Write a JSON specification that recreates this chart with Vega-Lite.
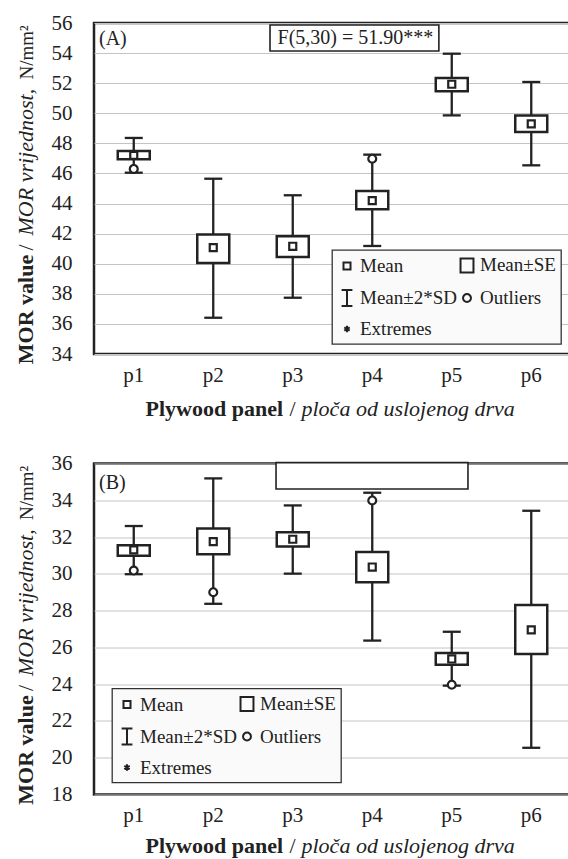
{
  "$schema": "https://vega.github.io/schema/vega-lite/v6.json",
  "padding": {"left": 12, "top": 10, "right": 0, "bottom": 0},
  "background": "white",
  "config": {
    "font": "Liberation Serif",
    "view": {"stroke": "#222", "strokeWidth": 2.5},
    "axis": {"labelFont": "Liberation Serif", "titleFont": "Liberation Serif", "labelColor": "#222", "titleColor": "#222", "labelFontSize": 21, "titleFontSize": 22, "titleFontWeight": "normal", "gridColor": "#c4c4c4", "gridWidth": 1, "domain": false, "ticks": false},
    "legend": {"labelFont": "Liberation Serif", "labelFontSize": 19, "labelColor": "#222", "fillColor": "#fafafa", "strokeColor": "#333", "strokeWidth": 1.3, "padding": 5, "rowPadding": 9, "columnPadding": -8, "labelOffset": 3, "symbolSize": 324, "symbolStrokeWidth": 2, "symbolStrokeColor": "#222", "symbolFillColor": "transparent", "labelLimit": 300, "gridAlign": "each", "direction": "horizontal"},
    "text": {"font": "Liberation Serif", "fontSize": 20, "color": "#222"}
  },
  "datasets": {
    "A": [
      {"panel": "p1", "lo": 46.05, "hi": 48.36, "se_lo": 46.94, "se_hi": 47.49, "mean": 47.2, "outlier": 46.3},
      {"panel": "p2", "lo": 36.41, "hi": 45.65, "se_lo": 40.05, "se_hi": 41.95, "mean": 41.07, "outlier": null},
      {"panel": "p3", "lo": 37.74, "hi": 44.55, "se_lo": 40.45, "se_hi": 41.82, "mean": 41.16, "outlier": null},
      {"panel": "p4", "lo": 41.18, "hi": 47.25, "se_lo": 43.62, "se_hi": 44.83, "mean": 44.2, "outlier": 46.98},
      {"panel": "p5", "lo": 49.86, "hi": 53.96, "se_lo": 51.46, "se_hi": 52.34, "mean": 51.93, "outlier": null},
      {"panel": "p6", "lo": 46.54, "hi": 52.08, "se_lo": 48.76, "se_hi": 49.86, "mean": 49.29, "outlier": null}
    ],
    "B": [
      {"panel": "p1", "lo": 29.98, "hi": 32.6, "se_lo": 30.99, "se_hi": 31.55, "mean": 31.3, "outlier": 30.18},
      {"panel": "p2", "lo": 28.37, "hi": 35.19, "se_lo": 31.06, "se_hi": 32.47, "mean": 31.75, "outlier": 29.0},
      {"panel": "p3", "lo": 30.01, "hi": 33.72, "se_lo": 31.48, "se_hi": 32.26, "mean": 31.88, "outlier": null},
      {"panel": "p4", "lo": 26.37, "hi": 34.41, "se_lo": 29.54, "se_hi": 31.19, "mean": 30.37, "outlier": 33.99},
      {"panel": "p5", "lo": 23.92, "hi": 26.85, "se_lo": 25.06, "se_hi": 25.69, "mean": 25.37, "outlier": 23.97},
      {"panel": "p6", "lo": 20.54, "hi": 33.43, "se_lo": 25.64, "se_hi": 28.31, "mean": 26.95, "outlier": null}
    ]
  },
  "vconcat": [
    {
      "width": 477,
      "height": 331,
      "data": {"name": "A"},
      "resolve": {"scale": {"x": "independent"}, "axis": {"x": "independent", "y": "independent"}},
      "layer": [
        {
          "mark": {"type": "rule", "color": "#222", "strokeWidth": 2.3},
          "encoding": {
            "x": {"field": "panel", "type": "nominal", "scale": {"domain": ["p1", "p2", "p3", "p4", "p5", "p6"], "paddingInner": 0, "paddingOuter": 0},
              "axis": {"orient": "bottom", "labelAngle": 0, "labelPadding": 10, "title": "Plywood panel", "titleFontWeight": "bold", "titleX": 51, "titleY": 61.3, "titleAlign": "left", "titleBaseline": "alphabetic", "grid": false}},
            "y": {"field": "lo", "type": "quantitative", "scale": {"domain": [34, 56], "nice": false, "zero": false},
              "axis": {"orient": "left", "values": [34, 36, 38, 40, 42, 44, 46, 48, 50, 52, 54, 56], "grid": true, "labelPadding": 22, "title": "MOR value", "titleFontWeight": "bold", "titleX": -62, "titleY": 340.7, "titleAlign": "left", "titleAngle": 270, "titleBaseline": "alphabetic"}},
            "y2": {"field": "hi"}
          }
        },
        {
          "mark": {"type": "tick", "orient": "horizontal", "color": "#222", "thickness": 2.3, "size": 18, "opacity": 1},
          "encoding": {"x": {"field": "panel", "type": "nominal", "scale": {"domain": ["p1", "p2", "p3", "p4", "p5", "p6"], "paddingInner": 0, "paddingOuter": 0}, "axis": null}, "y": {"field": "lo", "type": "quantitative", "axis": null}}
        },
        {
          "mark": {"type": "tick", "orient": "horizontal", "color": "#222", "thickness": 2.3, "size": 18, "opacity": 1},
          "encoding": {"x": {"field": "panel", "type": "nominal", "scale": {"domain": ["p1", "p2", "p3", "p4", "p5", "p6"], "paddingInner": 0, "paddingOuter": 0}, "axis": null}, "y": {"field": "hi", "type": "quantitative", "axis": null}}
        },
        {
          "mark": {"type": "bar", "width": 32, "fill": "white", "stroke": "#222", "strokeWidth": 2.5},
          "encoding": {"x": {"field": "panel", "type": "nominal", "scale": {"domain": ["p1", "p2", "p3", "p4", "p5", "p6"], "paddingInner": 0, "paddingOuter": 0}, "axis": null}, "y": {"field": "se_lo", "type": "quantitative", "axis": null}, "y2": {"field": "se_hi"}}
        },
        {
          "mark": {"type": "point", "shape": "circle", "filled": true, "color": "white", "size": 50, "opacity": 1},
          "encoding": {"x": {"field": "panel", "type": "nominal", "scale": {"domain": ["p1", "p2", "p3", "p4", "p5", "p6"], "paddingInner": 0, "paddingOuter": 0}, "axis": null}, "y": {"field": "outlier", "type": "quantitative", "axis": null}}
        },
        {
          "mark": {"type": "point", "filled": false, "color": "#222", "strokeWidth": 2.2, "size": 324, "opacity": 1},
          "encoding": {
            "x": {"field": "panel", "type": "nominal", "scale": {"domain": ["p1", "p2", "p3", "p4", "p5", "p6"], "paddingInner": 0, "paddingOuter": 0}, "axis": null},
            "y": {"field": "mean", "type": "quantitative", "axis": null},
            "shape": {"datum": "Mean", "scale": {"domain": ["Mean", "Mean±SE", "Mean±2*SD", "Outliers", "Extremes"], "range": ["M-0.39,-0.39H0.39V0.39H-0.39Z", "M-0.72,-0.78H0.72V0.78H-0.72Z", "M-0.6,-0.88H0.6M0,-0.88V0.88M-0.6,0.88H0.6", "M-0.44,0A0.44,0.44,0,1,0,0.44,0A0.44,0.44,0,1,0,-0.44,0Z", "M0,-0.35V0.35M-0.3,-0.18L0.3,0.18M-0.3,0.18L0.3,-0.18"]},
              "legend": {"orient": "none", "legendX": 238, "legendY": 227, "columns": 2, "direction": "horizontal", "title": null,
                "encode": {"symbols": {"update": {"stroke": {"value": "#222"}, "strokeOpacity": {"value": 1}, "strokeWidth": {"value": 2}, "fill": {"value": "transparent"}, "opacity": {"value": 1}}}}}}
          }
        },
        {
          "mark": {"type": "point", "filled": false, "color": "#222", "strokeWidth": 2.2, "size": 324, "opacity": 1},
          "encoding": {
            "x": {"field": "panel", "type": "nominal", "scale": {"domain": ["p1", "p2", "p3", "p4", "p5", "p6"], "paddingInner": 0, "paddingOuter": 0}, "axis": null},
            "y": {"field": "outlier", "type": "quantitative", "axis": null},
            "shape": {"datum": "Outliers"}
          }
        },
        {
          "data": {"values": [{}]},
          "mark": {"type": "rect", "fill": "white", "stroke": "#222", "strokeWidth": 1.6},
          "encoding": {
            "x": {"datum": 0.369, "type": "quantitative", "scale": {"domain": [0, 1], "nice": false, "zero": false},
              "axis": {"orient": "bottom", "labels": false, "ticks": false, "domain": false, "grid": false, "title": "ploča od uslojenog drva", "titleFontStyle": "italic", "titleX": 207, "titleY": 61.3, "titleAlign": "left", "titleBaseline": "alphabetic"}},
            "x2": {"datum": 0.723},
            "y": {"datum": 55.87, "type": "quantitative",
              "axis": {"orient": "left", "labels": false, "ticks": false, "domain": false, "grid": false, "title": "MOR vrijednost,", "titleFontStyle": "italic", "titleX": -62, "titleY": 212, "titleAlign": "left", "titleAngle": 270, "titleBaseline": "alphabetic"}},
            "y2": {"datum": 54.14}
          }
        },
        {
          "data": {"values": [{}]},
          "mark": {"type": "text", "align": "left", "baseline": "alphabetic", "fontSize": 20},
          "encoding": {
            "x": {"datum": 0.0105, "type": "quantitative", "scale": {"domain": [0, 1], "nice": false, "zero": false},
              "axis": {"orient": "bottom", "labels": false, "ticks": false, "domain": false, "grid": false, "title": "/", "titleX": 195, "titleY": 61.3, "titleAlign": "left", "titleBaseline": "alphabetic"}},
            "y": {"datum": 54.56, "type": "quantitative",
              "axis": {"orient": "left", "labels": false, "ticks": false, "domain": false, "grid": false, "title": "/", "titleX": -62, "titleY": 227, "titleAlign": "left", "titleAngle": 270, "titleBaseline": "alphabetic"}},
            "text": {"value": "(A)"}
          }
        },
        {
          "data": {"values": [{}]},
          "mark": {"type": "text", "align": "center", "baseline": "alphabetic", "fontSize": 20},
          "encoding": {
            "x": {"datum": 0.548, "type": "quantitative", "scale": {"domain": [0, 1], "nice": false, "zero": false}, "axis": null},
            "y": {"datum": 54.62, "type": "quantitative",
              "axis": {"orient": "left", "labels": false, "ticks": false, "domain": false, "grid": false, "title": "N/mm²", "titleFontSize": 19, "titleX": -62, "titleY": 56, "titleAlign": "left", "titleAngle": 270, "titleBaseline": "alphabetic"}},
            "text": {"value": "F(5,30) = 51.90***"}
          }
        }
      ]
    },
    {
      "width": 477,
      "height": 331,
      "data": {"name": "B"},
      "resolve": {"scale": {"x": "independent"}, "axis": {"x": "independent", "y": "independent"}},
      "layer": [
        {
          "mark": {"type": "rule", "color": "#222", "strokeWidth": 2.3},
          "encoding": {
            "x": {"field": "panel", "type": "nominal", "scale": {"domain": ["p1", "p2", "p3", "p4", "p5", "p6"], "paddingInner": 0, "paddingOuter": 0},
              "axis": {"orient": "bottom", "labelAngle": 0, "labelPadding": 10, "title": "Plywood panel", "titleFontWeight": "bold", "titleX": 51, "titleY": 58, "titleAlign": "left", "titleBaseline": "alphabetic", "grid": false}},
            "y": {"field": "lo", "type": "quantitative", "scale": {"domain": [18, 36], "nice": false, "zero": false},
              "axis": {"orient": "left", "values": [18, 20, 22, 24, 26, 28, 30, 32, 34, 36], "grid": true, "labelPadding": 22, "title": "MOR value", "titleFontWeight": "bold", "titleX": -62, "titleY": 340.7, "titleAlign": "left", "titleAngle": 270, "titleBaseline": "alphabetic"}},
            "y2": {"field": "hi"}
          }
        },
        {
          "mark": {"type": "tick", "orient": "horizontal", "color": "#222", "thickness": 2.3, "size": 18, "opacity": 1},
          "encoding": {"x": {"field": "panel", "type": "nominal", "scale": {"domain": ["p1", "p2", "p3", "p4", "p5", "p6"], "paddingInner": 0, "paddingOuter": 0}, "axis": null}, "y": {"field": "lo", "type": "quantitative", "axis": null}}
        },
        {
          "mark": {"type": "tick", "orient": "horizontal", "color": "#222", "thickness": 2.3, "size": 18, "opacity": 1},
          "encoding": {"x": {"field": "panel", "type": "nominal", "scale": {"domain": ["p1", "p2", "p3", "p4", "p5", "p6"], "paddingInner": 0, "paddingOuter": 0}, "axis": null}, "y": {"field": "hi", "type": "quantitative", "axis": null}}
        },
        {
          "mark": {"type": "bar", "width": 32, "fill": "white", "stroke": "#222", "strokeWidth": 2.5},
          "encoding": {"x": {"field": "panel", "type": "nominal", "scale": {"domain": ["p1", "p2", "p3", "p4", "p5", "p6"], "paddingInner": 0, "paddingOuter": 0}, "axis": null}, "y": {"field": "se_lo", "type": "quantitative", "axis": null}, "y2": {"field": "se_hi"}}
        },
        {
          "mark": {"type": "point", "shape": "circle", "filled": true, "color": "white", "size": 50, "opacity": 1},
          "encoding": {"x": {"field": "panel", "type": "nominal", "scale": {"domain": ["p1", "p2", "p3", "p4", "p5", "p6"], "paddingInner": 0, "paddingOuter": 0}, "axis": null}, "y": {"field": "outlier", "type": "quantitative", "axis": null}}
        },
        {
          "mark": {"type": "point", "filled": false, "color": "#222", "strokeWidth": 2.2, "size": 324, "opacity": 1},
          "encoding": {
            "x": {"field": "panel", "type": "nominal", "scale": {"domain": ["p1", "p2", "p3", "p4", "p5", "p6"], "paddingInner": 0, "paddingOuter": 0}, "axis": null},
            "y": {"field": "mean", "type": "quantitative", "axis": null},
            "shape": {"datum": "Mean", "scale": {"domain": ["Mean", "Mean±SE", "Mean±2*SD", "Outliers", "Extremes"], "range": ["M-0.39,-0.39H0.39V0.39H-0.39Z", "M-0.72,-0.78H0.72V0.78H-0.72Z", "M-0.6,-0.88H0.6M0,-0.88V0.88M-0.6,0.88H0.6", "M-0.44,0A0.44,0.44,0,1,0,0.44,0A0.44,0.44,0,1,0,-0.44,0Z", "M0,-0.35V0.35M-0.3,-0.18L0.3,0.18M-0.3,0.18L0.3,-0.18"]},
              "legend": {"orient": "none", "legendX": 18, "legendY": 225, "columns": 2, "direction": "horizontal", "title": null,
                "encode": {"symbols": {"update": {"stroke": {"value": "#222"}, "strokeOpacity": {"value": 1}, "strokeWidth": {"value": 2}, "fill": {"value": "transparent"}, "opacity": {"value": 1}}}}}}
          }
        },
        {
          "mark": {"type": "point", "filled": false, "color": "#222", "strokeWidth": 2.2, "size": 324, "opacity": 1},
          "encoding": {
            "x": {"field": "panel", "type": "nominal", "scale": {"domain": ["p1", "p2", "p3", "p4", "p5", "p6"], "paddingInner": 0, "paddingOuter": 0}, "axis": null},
            "y": {"field": "outlier", "type": "quantitative", "axis": null},
            "shape": {"datum": "Outliers"}
          }
        },
        {
          "data": {"values": [{}]},
          "mark": {"type": "rect", "fill": "white", "stroke": "#222", "strokeWidth": 1.6},
          "encoding": {
            "x": {"datum": 0.3816, "type": "quantitative", "scale": {"domain": [0, 1], "nice": false, "zero": false},
              "axis": {"orient": "bottom", "labels": false, "ticks": false, "domain": false, "grid": false, "title": "ploča od uslojenog drva", "titleFontStyle": "italic", "titleX": 207, "titleY": 58, "titleAlign": "left", "titleBaseline": "alphabetic"}},
            "x2": {"datum": 0.784},
            "y": {"datum": 36.05, "type": "quantitative",
              "axis": {"orient": "left", "labels": false, "ticks": false, "domain": false, "grid": false, "title": "MOR vrijednost,", "titleFontStyle": "italic", "titleX": -62, "titleY": 212, "titleAlign": "left", "titleAngle": 270, "titleBaseline": "alphabetic"}},
            "y2": {"datum": 34.61}
          }
        },
        {
          "data": {"values": [{}]},
          "mark": {"type": "text", "align": "left", "baseline": "alphabetic", "fontSize": 20},
          "encoding": {
            "x": {"datum": 0.0105, "type": "quantitative", "scale": {"domain": [0, 1], "nice": false, "zero": false},
              "axis": {"orient": "bottom", "labels": false, "ticks": false, "domain": false, "grid": false, "title": "/", "titleX": 195, "titleY": 58, "titleAlign": "left", "titleBaseline": "alphabetic"}},
            "y": {"datum": 34.59, "type": "quantitative",
              "axis": {"orient": "left", "labels": false, "ticks": false, "domain": false, "grid": false, "title": "/", "titleX": -62, "titleY": 227, "titleAlign": "left", "titleAngle": 270, "titleBaseline": "alphabetic"}},
            "text": {"value": "(B)"}
          }
        },
        {
          "data": {"values": [{}]},
          "mark": {"type": "text", "align": "center", "baseline": "alphabetic", "fontSize": 20},
          "encoding": {
            "x": {"datum": 0.58, "type": "quantitative", "scale": {"domain": [0, 1], "nice": false, "zero": false}, "axis": null},
            "y": {"datum": 35.0, "type": "quantitative",
              "axis": {"orient": "left", "labels": false, "ticks": false, "domain": false, "grid": false, "title": "N/mm²", "titleFontSize": 19, "titleX": -62, "titleY": 56, "titleAlign": "left", "titleAngle": 270, "titleBaseline": "alphabetic"}},
            "text": {"value": ""}
          }
        }
      ]
    }
  ],
  "spacing": 109.5,
  "bounds": "flush",
  "resolve": {"scale": {"shape": "independent"}, "legend": {"shape": "independent"}}
}
